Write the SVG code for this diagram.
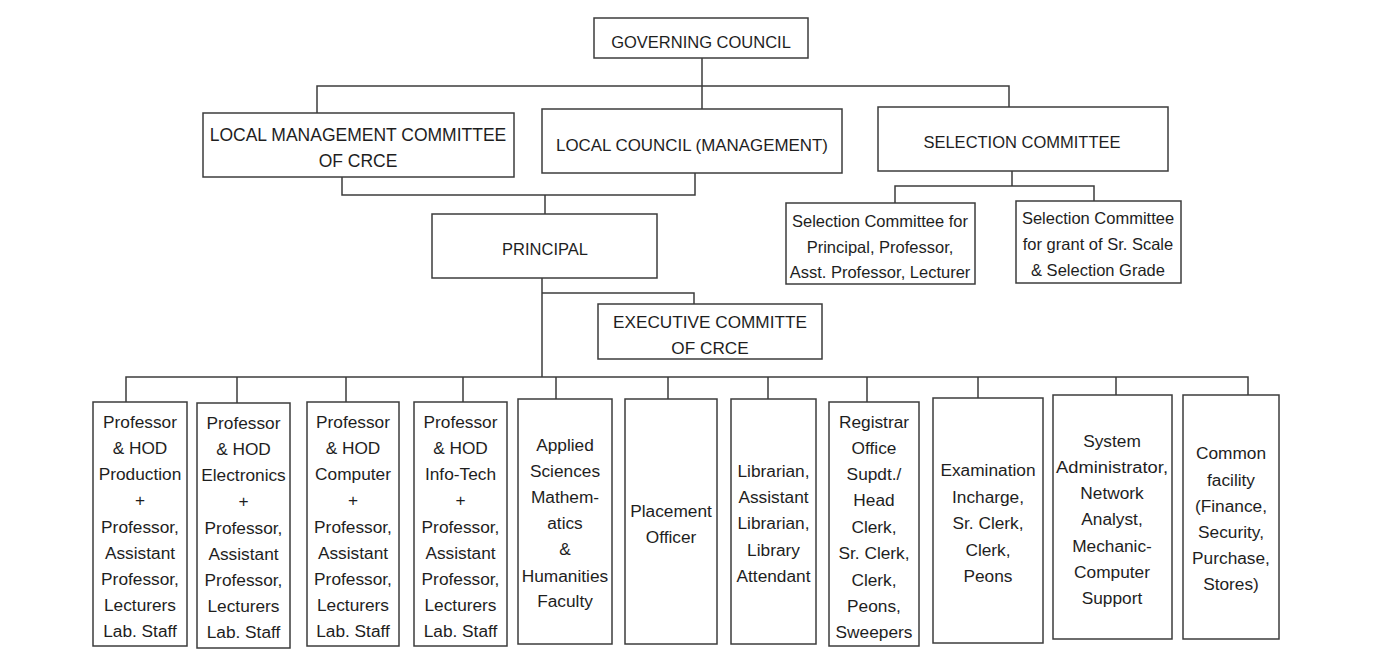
<svg xmlns="http://www.w3.org/2000/svg" width="1373" height="662" viewBox="0 0 1373 662">
<style>
.b{fill:#fff;stroke:#3c3c3c;stroke-width:1.5}
.c{fill:none;stroke:#3c3c3c;stroke-width:1.5}
text{font-family:"Liberation Sans",Arial,sans-serif;fill:#1e1e1e;text-anchor:middle}
.t{font-size:16.5px}
.s{font-size:16.5px}
.m{font-size:17.3px}
</style>
<rect width="1373" height="662" fill="#fff"/>
<g id="connectors">
<path class="c" d="M702 58V109M317 113V86H1009V107"/>
<path class="c" d="M342 177V195H695V173M545 195V214"/>
<path class="c" d="M1012 171V186M895 203V186H1094V201"/>
<path class="c" d="M542 278V377M542 293H694V304"/>
<path class="c" d="M126 402V377H1248V395M237 377V403M346 377V402M463 377V402M556 377V399M668 377V399M768 377V399M867 377V402M978 377V398M1116 377V395"/>
</g>
<g id="governing"><rect class="b" x="594" y="18" width="214" height="40"/><text class="t" x="701" y="48">GOVERNING COUNCIL</text></g>
<g id="lmc"><rect class="b" x="203" y="113" width="311" height="64"/><text class="t" x="358" y="141" style="font-size:17.5px">LOCAL MANAGEMENT COMMITTEE</text><text class="t" x="358" y="167" style="font-size:17.5px">OF CRCE</text></g>
<g id="localcouncil"><rect class="b" x="542" y="109" width="300" height="64"/><text class="t" x="692" y="151" style="font-size:16.9px">LOCAL COUNCIL (MANAGEMENT)</text></g>
<g id="selection"><rect class="b" x="878" y="107" width="290" height="64"/><text class="t" x="1022" y="148">SELECTION COMMITTEE</text></g>
<g id="sel1"><rect class="b" x="786" y="203" width="189" height="81"/><text class="s" x="880" y="227">Selection Committee for</text><text class="s" x="880" y="253">Principal, Professor,</text><text class="s" x="880" y="278">Asst. Professor, Lecturer</text></g>
<g id="sel2"><rect class="b" x="1016" y="201" width="165" height="82"/><text class="s" x="1098" y="224">Selection Committee</text><text class="s" x="1098" y="250">for grant of Sr. Scale</text><text class="s" x="1098" y="276">&amp; Selection Grade</text></g>
<g id="principal"><rect class="b" x="432" y="214" width="225" height="64"/><text class="t" x="545" y="255">PRINCIPAL</text></g>
<g id="executive"><rect class="b" x="598" y="304" width="224" height="55"/><text class="t" x="710" y="328" style="font-size:17.2px">EXECUTIVE COMMITTE</text><text class="t" x="710" y="354" style="font-size:17.2px">OF CRCE</text></g>
<g id="production"><rect class="b" x="93" y="402" width="94" height="244"/><text class="m" x="140"><tspan x="140" y="428">Professor</tspan><tspan x="140" y="454">&amp; HOD</tspan><tspan x="140" y="480">Production</tspan><tspan x="140" y="506">+</tspan><tspan x="140" y="533">Professor,</tspan><tspan x="140" y="559">Assistant</tspan><tspan x="140" y="585">Professor,</tspan><tspan x="140" y="611">Lecturers</tspan><tspan x="140" y="637">Lab. Staff</tspan></text></g>
<g id="electronics"><rect class="b" x="197" y="403" width="93" height="245"/><text class="m" x="243"><tspan x="243.5" y="429">Professor</tspan><tspan x="243.5" y="455">&amp; HOD</tspan><tspan x="243.5" y="481">Electronics</tspan><tspan x="243.5" y="507">+</tspan><tspan x="243.5" y="534">Professor,</tspan><tspan x="243.5" y="560">Assistant</tspan><tspan x="243.5" y="586">Professor,</tspan><tspan x="243.5" y="612">Lecturers</tspan><tspan x="243.5" y="638">Lab. Staff</tspan></text></g>
<g id="computer"><rect class="b" x="307" y="402" width="92" height="244"/><text class="m" x="353"><tspan x="353" y="428">Professor</tspan><tspan x="353" y="454">&amp; HOD</tspan><tspan x="353" y="480">Computer</tspan><tspan x="353" y="506">+</tspan><tspan x="353" y="533">Professor,</tspan><tspan x="353" y="559">Assistant</tspan><tspan x="353" y="585">Professor,</tspan><tspan x="353" y="611">Lecturers</tspan><tspan x="353" y="637">Lab. Staff</tspan></text></g>
<g id="infotech"><rect class="b" x="414" y="402" width="93" height="244"/><text class="m" x="460"><tspan x="460.5" y="428">Professor</tspan><tspan x="460.5" y="454">&amp; HOD</tspan><tspan x="460.5" y="480">Info-Tech</tspan><tspan x="460.5" y="506">+</tspan><tspan x="460.5" y="533">Professor,</tspan><tspan x="460.5" y="559">Assistant</tspan><tspan x="460.5" y="585">Professor,</tspan><tspan x="460.5" y="611">Lecturers</tspan><tspan x="460.5" y="637">Lab. Staff</tspan></text></g>
<g id="applied"><rect class="b" x="518" y="399" width="94" height="245"/><text class="m" x="565"><tspan x="565" y="451">Applied</tspan><tspan x="565" y="477">Sciences</tspan><tspan x="565" y="503">Mathem-</tspan><tspan x="565" y="529">atics</tspan><tspan x="565" y="555">&amp;</tspan><tspan x="565" y="582">Humanities</tspan><tspan x="565" y="607">Faculty</tspan></text></g>
<g id="placement"><rect class="b" x="625" y="399" width="92" height="245"/><text class="m" x="671"><tspan x="671" y="517">Placement</tspan><tspan x="671" y="543">Officer</tspan></text></g>
<g id="library"><rect class="b" x="731" y="399" width="85" height="245"/><text class="m" x="773.5"><tspan x="773.5" y="477">Librarian,</tspan><tspan x="773.5" y="503">Assistant</tspan><tspan x="773.5" y="529">Librarian,</tspan><tspan x="773.5" y="556">Library</tspan><tspan x="773.5" y="582">Attendant</tspan></text></g>
<g id="registrar"><rect class="b" x="829" y="402" width="90" height="244"/><text class="m" x="874"><tspan x="874" y="428">Registrar</tspan><tspan x="874" y="454">Office</tspan><tspan x="874" y="480">Supdt./</tspan><tspan x="874" y="506">Head</tspan><tspan x="874" y="533">Clerk,</tspan><tspan x="874" y="559">Sr. Clerk,</tspan><tspan x="874" y="586">Clerk,</tspan><tspan x="874" y="612">Peons,</tspan><tspan x="874" y="638">Sweepers</tspan></text></g>
<g id="examination"><rect class="b" x="933" y="398" width="110" height="245"/><text class="m" x="988"><tspan x="988" y="476">Examination</tspan><tspan x="988" y="503">Incharge,</tspan><tspan x="988" y="529">Sr. Clerk,</tspan><tspan x="988" y="556">Clerk,</tspan><tspan x="988" y="582">Peons</tspan></text></g>
<g id="system"><rect class="b" x="1053" y="395" width="119" height="244"/><text class="m" x="1112"><tspan x="1112" y="447">System</tspan><tspan x="1112" y="473" textLength="112" lengthAdjust="spacingAndGlyphs">Administrator,</tspan><tspan x="1112" y="499">Network</tspan><tspan x="1112" y="525">Analyst,</tspan><tspan x="1112" y="552">Mechanic-</tspan><tspan x="1112" y="578">Computer</tspan><tspan x="1112" y="604">Support</tspan></text></g>
<g id="common"><rect class="b" x="1183" y="395" width="96" height="244"/><text class="m" x="1231"><tspan x="1231" y="459">Common</tspan><tspan x="1231" y="486">facility</tspan><tspan x="1231" y="512">(Finance,</tspan><tspan x="1231" y="538">Security,</tspan><tspan x="1231" y="564">Purchase,</tspan><tspan x="1231" y="590">Stores)</tspan></text></g>
</svg>
